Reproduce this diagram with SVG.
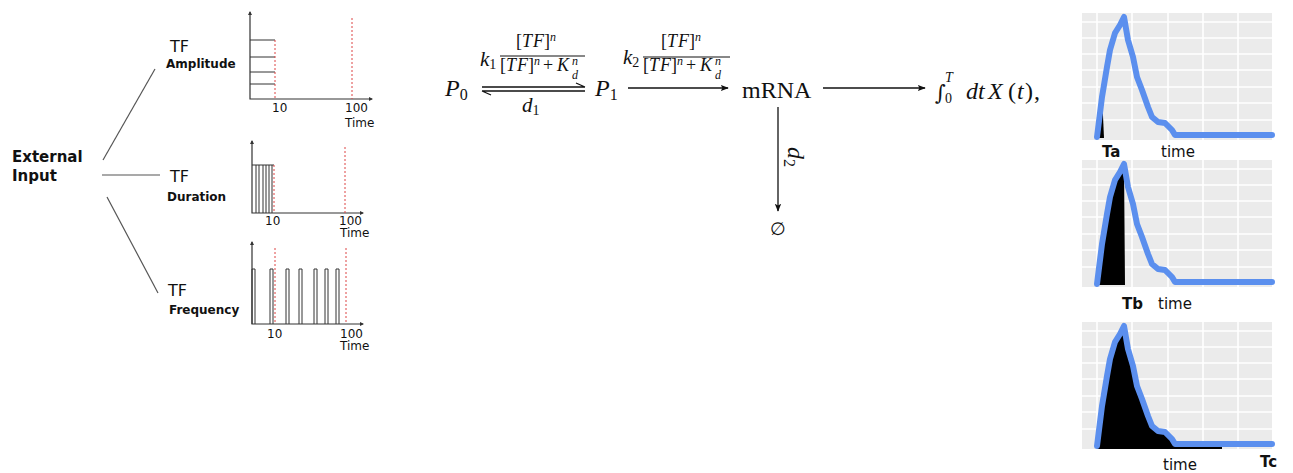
<svg xmlns="http://www.w3.org/2000/svg" width="1293" height="473" viewBox="0 0 1293 473">
<style>
.sans{font-family:"DejaVu Sans",Verdana,sans-serif;fill:#111}
.b{font-weight:bold}
.m{font-family:"Liberation Serif","Times New Roman",serif;fill:#111}
.i{font-style:italic}
.ax{stroke:#333;stroke-width:1.2;fill:none}
.bar{stroke:#333;stroke-width:1;fill:none}
.red{stroke:#d44;stroke-width:1;stroke-dasharray:2 2;fill:none}
.con{stroke:#555;stroke-width:1.2;fill:none}
.ar{stroke:#111;stroke-width:1.3;fill:none}
.grid{stroke:#fff;stroke-width:1.6}
.curve{stroke:#5b8fee;stroke-width:6;fill:none;stroke-linejoin:round;stroke-linecap:round}
</style>
<defs>
<marker id="head" viewBox="0 0 10 10" refX="9" refY="5" markerWidth="8" markerHeight="8" markerUnits="userSpaceOnUse" orient="auto"><path d="M0,1 L10,5 L0,9 L2,5 Z" fill="#111"/></marker>
<g id="panel">
<rect x="1082" y="13" width="190" height="127" fill="#ebebeb"/>
<path class="grid" d="M1097,13V140M1132,13V140M1168,13V140M1203,13V140M1238,13V140M1082,22H1272M1082,38H1272M1082,54H1272M1082,70H1272M1082,87H1272M1082,103H1272M1082,120H1272"/>
</g>
<polyline id="curve" class="curve" points="1097,137 1102,97 1107,67 1110,50 1115,33 1120,25 1124,17 1128,40 1133,57 1137,77 1142,90 1148,107 1152,117 1158,122 1165,123 1172,130 1175,135 1272,135"/>
</defs>

<g id="external-input">
<text class="sans b" x="12" y="162" font-size="15">External</text>
<text class="sans b" x="12" y="181" font-size="15">Input</text>
</g>

<g id="connectors">
<path class="con" d="M103,160 L155,69"/>
<path class="con" d="M102,175 H160"/>
<path class="con" d="M107,197 L158,293"/>
<path class="ar" d="M482,87 H585 M585,87 L576,83"/>
<path class="ar" d="M482,91 H585 M482,91 L491,95"/>
<path class="ar" d="M628,88 H728" marker-end="url(#head)"/>
<path class="ar" d="M823,88 H925" marker-end="url(#head)"/>
<path class="ar" d="M778,107 V211" marker-end="url(#head)"/>
</g>

<g id="tf-amplitude">
<text class="sans" x="170" y="52" font-size="16">TF</text>
<text class="sans b" x="166" y="68" font-size="12">Amplitude</text>
<path class="ax" d="M250,12 V99 H372" />
<path d="M250,11 l-2,4 h4 z M373,99 l-4,-2 v4 z" fill="#333"/>
<path class="bar" d="M250,40 H275 M250,57 H275 M250,72 H275 M250,84 H275"/>
<path class="red" d="M275,40 V99 M352,18 V99"/>
<text class="sans" x="272" y="112" font-size="12">10</text>
<text class="sans" x="345" y="112" font-size="12">100</text>
<text class="sans" x="345" y="127" font-size="12">Time</text>
</g>

<g id="tf-duration">
<text class="sans" x="170" y="182" font-size="16">TF</text>
<text class="sans b" x="167" y="201" font-size="12">Duration</text>
<path class="ax" d="M252,141 V213 H363"/>
<path d="M252,140 l-2,4 h4 z M364,213 l-4,-2 v4 z" fill="#333"/>
<path class="bar" d="M252,165 H274 M256,165 V213 M259,165 V213 M263,165 V213 M266,165 V213 M269,165 V213 M272,165 V213"/>
<path class="red" d="M274,165 V213 M345,147 V213"/>
<text class="sans" x="265" y="225" font-size="12">10</text>
<text class="sans" x="339" y="225" font-size="12">100</text>
<text class="sans" x="340" y="237" font-size="12">Time</text>
</g>

<g id="tf-frequency">
<text class="sans" x="168" y="296" font-size="16">TF</text>
<text class="sans b" x="169" y="314" font-size="12">Frequency</text>
<path class="ax" d="M252,242 V324 H363"/>
<path d="M252,241 l-2,4 h4 z M364,324 l-4,-2 v4 z" fill="#333"/>
<path class="bar" d="M252,324 V269 H255 V324 M270,324 V269 H273 V324 M286,324 V269 H289 V324 M299,324 V269 H302 V324 M314,324 V269 H317 V324 M325,324 V269 H328 V324 M336,324 V269 H339 V324"/>
<path class="red" d="M275,248 V324 M346,248 V324"/>
<text class="sans" x="267" y="338" font-size="12">10</text>
<text class="sans" x="340" y="338" font-size="12">100</text>
<text class="sans" x="340" y="350" font-size="12">Time</text>
</g>

<g id="p0">
<text class="m" x="445" y="96" font-size="24"><tspan class="i">P</tspan><tspan font-size="16" dy="4">0</tspan></text>
</g>

<g id="rate-k1">
<text class="m" x="480" y="66" font-size="21"><tspan class="i">k</tspan><tspan font-size="14" dy="3">1</tspan></text>
<text class="m" y="47" font-size="18"><tspan x="516">[</tspan><tspan class="i" x="522">T</tspan><tspan class="i" x="533">F</tspan><tspan x="544">]</tspan><tspan class="i" x="550" y="41" font-size="12">n</tspan></text>
<path d="M500,56 H585" stroke="#111" stroke-width="1"/>
<text class="m" y="71" font-size="18"><tspan x="500">[</tspan><tspan class="i" x="506">T</tspan><tspan class="i" x="517">F</tspan><tspan x="528">]</tspan><tspan class="i" x="534" y="65" font-size="12">n</tspan><tspan x="543" y="71">+</tspan><tspan class="i" x="557">K</tspan><tspan class="i" x="572" y="65" font-size="12">n</tspan><tspan class="i" x="572" y="79" font-size="12">d</tspan></text>
<text class="m" x="522" y="112" font-size="21"><tspan class="i">d</tspan><tspan font-size="14" dy="3">1</tspan></text>
</g>

<g id="p1">
<text class="m" x="595" y="96" font-size="24"><tspan class="i">P</tspan><tspan font-size="16" dy="4">1</tspan></text>
</g>

<g id="rate-k2">
<text class="m" x="623" y="64" font-size="21"><tspan class="i">k</tspan><tspan font-size="14" dy="3">2</tspan></text>
<text class="m" y="47" font-size="18"><tspan x="661">[</tspan><tspan class="i" x="667">T</tspan><tspan class="i" x="678">F</tspan><tspan x="689">]</tspan><tspan class="i" x="695" y="41" font-size="12">n</tspan></text>
<path d="M643,57 H730" stroke="#111" stroke-width="1"/>
<text class="m" y="71" font-size="18"><tspan x="643">[</tspan><tspan class="i" x="649">T</tspan><tspan class="i" x="660">F</tspan><tspan x="671">]</tspan><tspan class="i" x="677" y="65" font-size="12">n</tspan><tspan x="686" y="71">+</tspan><tspan class="i" x="700">K</tspan><tspan class="i" x="715" y="65" font-size="12">n</tspan><tspan class="i" x="715" y="79" font-size="12">d</tspan></text>
</g>

<g id="mrna">
<text class="m" x="742" y="98" font-size="24">mRNA</text>
</g>

<g id="integral">
<text x="935" y="100" font-size="21" style="font-family:'DejaVu Serif',serif;font-style:italic;fill:#111">∫</text>
<text class="m i" x="945" y="82" font-size="14">T</text>
<text class="m" x="945" y="103" font-size="14">0</text>
<text class="m" y="99" font-size="24"><tspan class="i" x="966">d</tspan><tspan class="i" x="978">t</tspan><tspan class="i" x="988">X</tspan><tspan x="1008">(</tspan><tspan class="i" x="1017">t</tspan><tspan x="1025">)</tspan><tspan x="1034">,</tspan></text>
</g>

<g id="d2-label">
<text class="m" transform="translate(788,147) rotate(90)" font-size="24"><tspan class="i">d</tspan><tspan font-size="16" dy="4">2</tspan></text>
</g>

<g id="empty-set">
<text x="778" y="235" font-size="18" text-anchor="middle" style="font-family:'DejaVu Serif',serif;fill:#111">∅</text>
</g>

<g id="plot-ta">
<use href="#panel"/>
<polygon points="1096,138 1102,94 1104,138" fill="#000"/>
<use href="#curve"/>
<text class="sans b" x="1102" y="157" font-size="15">Ta</text>
<text class="sans" x="1161" y="157" font-size="15">time</text>
</g>

<g id="plot-tb">
<g transform="translate(0,147)">
<use href="#panel"/>
<polygon points="1097,138 1102,97 1107,67 1110,50 1115,33 1120,25 1124,17 1125,138" fill="#000"/>
<use href="#curve"/>
</g>
<text class="sans b" x="1122" y="309" font-size="15">Tb</text>
<text class="sans" x="1158" y="309" font-size="15">time</text>
</g>

<g id="plot-tc">
<g transform="translate(0,309)">
<use href="#panel"/>
<polygon points="1097,139 1102,97 1107,67 1110,50 1115,33 1120,25 1124,17 1128,40 1133,57 1137,77 1142,90 1148,107 1152,117 1158,122 1165,123 1172,130 1175,135 1175,139" fill="#000"/>
<path d="M1097,139 H1222" stroke="#000" stroke-width="2"/>
<use href="#curve"/>
</g>
<text class="sans" x="1163" y="470" font-size="15">time</text>
<text class="sans b" x="1260" y="467" font-size="15">Tc</text>
</g>
</svg>
